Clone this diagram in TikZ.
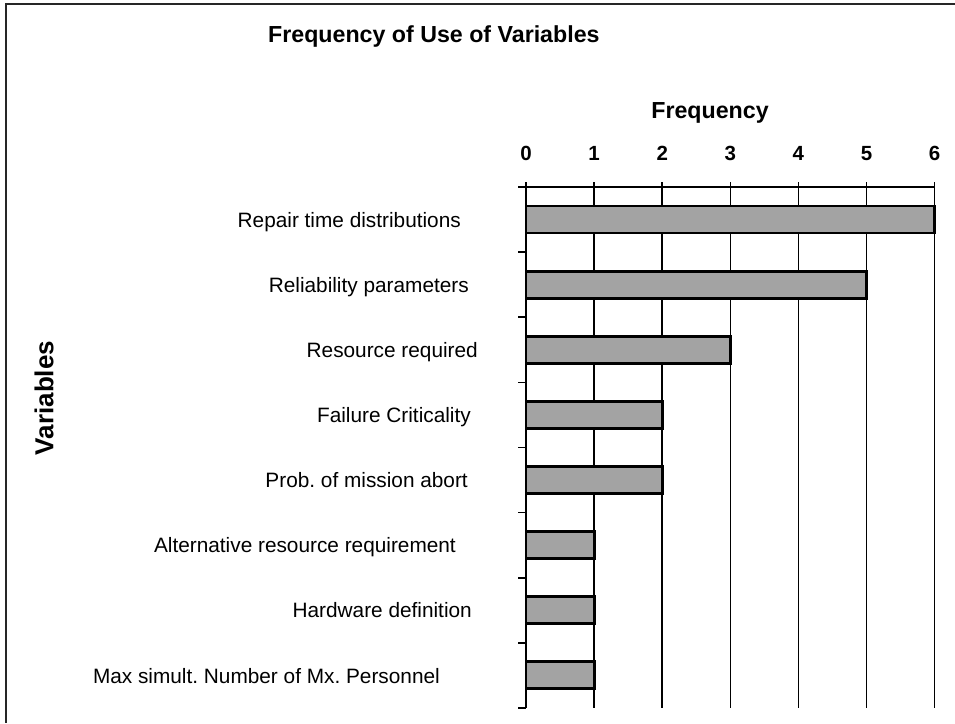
\documentclass[tikz,border=0pt]{standalone}
\usepackage{fontspec}
\setmainfont{Liberation Sans}
\frenchspacing
\begin{document}
\begin{tikzpicture}[x=1pt,y=-1pt,
  titletext/.style={font=\fontsize{23.2}{27}\selectfont\bfseries, inner sep=0pt},
  ticktext/.style={font=\fontsize{20.5}{24}\selectfont\bfseries, inner sep=0pt, anchor=base},
  cattext/.style={font=\fontsize{20.8}{24}\selectfont, inner sep=0pt, anchor=mid east},
  gridline/.style={line width=1.6pt, black},
  barbox/.style={line width=2.8pt, draw=black, fill=black!36},
  frameline/.style={line width=1.4pt, black!85}]
  % page extent
  \useasboundingbox (0,0) rectangle (955,723);
  % frame (top and left edges)
  \draw[frameline] (955,4) -- (6,4) -- (6,723);

  % titles
  \node[titletext, anchor=west] (title) at (268,36) {Frequency of Use of Variables};
  \node[titletext] (xlabel) at (710,113) {Frequency};
  \node[titletext, font=\fontsize{26}{30}\selectfont\bfseries, rotate=90] (ylabel) at (44,398) {Variables};

  % value axis numbers and grid
  \foreach \v in {0,...,6} {
    \pgfmathsetmacro{\gx}{526+68.1*\v}
    \node[ticktext] (num\v) at (\gx,160.5) {\v};
    \draw[gridline] (\gx,182) -- (\gx,708);
  }
  % top axis line and category ticks
  \draw[gridline] (518,187) -- (934.6,187);
  \foreach \k in {1,...,8} {
    \draw[gridline] (518,{187+65.125*\k}) -- (526,{187+65.125*\k});
  }

  % bars and category labels
  \foreach \i/\val/\rx/\lbl in {
      0/6/461/{Repair time distributions},
      1/5/469/{Reliability parameters},
      2/3/478/{Resource required},
      3/2/471/{Failure Criticality},
      4/2/468/{Prob. of mission abort},
      5/1/456/{Alternative resource requirement},
      6/1/472/{Hardware definition},
      7/1/440/{Max simult. Number of Mx. Personnel}} {
    \pgfmathsetmacro{\cy}{219.5+65.125*\i}
    \draw[barbox] (526,\cy-13.5) rectangle ({526+68.1*\val},\cy+13.5);
    \node[cattext] (cat\i) at (\rx,\cy+5) {\lbl};
  }
\end{tikzpicture}
\end{document}
